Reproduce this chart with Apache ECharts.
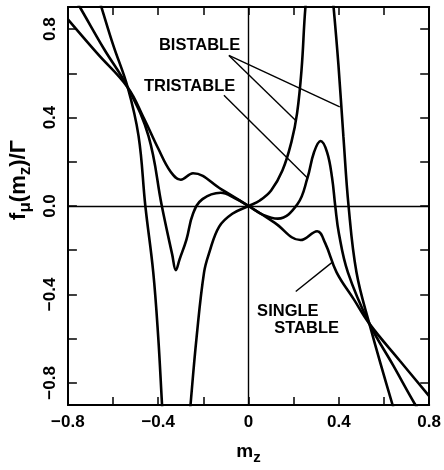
<!DOCTYPE html>
<html>
<head>
<meta charset="utf-8">
<script src="https://cdn.jsdelivr.net/npm/echarts@6/dist/echarts.min.js"></script>
<style>
  html, body { margin: 0; padding: 0; background: #fff; }
  #chart { width: 444px; height: 470px; }
</style>
</head>
<body>
<div id="chart"></div>
<script>
// curves, [m_z, f/Γ]; points past ±0.9 are clipped by the grid
var singleStable = [
    [-0.8, 0.844], [-0.67, 0.69], [-0.535, 0.536], [-0.465, 0.40], [-0.40, 0.26],
    [-0.345, 0.155], [-0.30, 0.119], [-0.246, 0.148], [-0.12, 0.075], [0, 0],
    [0.115, -0.075], [0.23, -0.154], [0.304, -0.114], [0.339, -0.167], [0.39, -0.3],
    [0.465, -0.42], [0.535, -0.532], [0.67, -0.70], [0.8, -0.86]
];
var tristable = [
    [-0.8, 0.99], [-0.748, 0.901], [-0.64, 0.71], [-0.535, 0.536], [-0.443, 0.316],
    [-0.384, 0], [-0.338, -0.22], [-0.322, -0.29], [-0.305, -0.24], [-0.275, -0.152],
    [-0.246, -0.035], [-0.204, 0.031], [-0.123, 0.06], [-0.06, 0.035], [0, 0],
    [0.065, -0.04], [0.13, -0.057], [0.217, 0.009], [0.261, 0.127], [0.29, 0.243],
    [0.319, 0.294], [0.348, 0.243], [0.37, 0.127], [0.384, 0], [0.40, -0.123],
    [0.44, -0.3], [0.535, -0.532], [0.64, -0.72], [0.739, -0.9], [0.8, -1.0]
];
var bistable = [
    [-0.7, 1.06], [-0.652, 0.901], [-0.6, 0.73], [-0.535, 0.536], [-0.487, 0.316],
    [-0.457, 0], [-0.422, -0.3], [-0.4, -0.593], [-0.383, -0.9], [-0.36, -1.3],
    [-0.32, -1.45], [-0.29, -1.3], [-0.257, -0.9], [-0.23, -0.593], [-0.197, -0.3],
    [-0.174, -0.211], [-0.13, -0.093], [-0.072, -0.035], [0, 0], [0.05, 0.025],
    [0.1, 0.07], [0.15, 0.16], [0.19, 0.29], [0.215, 0.42], [0.235, 0.62], [0.252, 0.9],
    [0.29, 1.3], [0.315, 1.4], [0.34, 1.3], [0.377, 0.895], [0.398, 0.639],
    [0.42, 0.316], [0.443, 0], [0.478, -0.3], [0.535, -0.532], [0.638, -0.9], [0.7, -1.1]
];

var xTicks = [-0.6, -0.4, -0.2, 0, 0.2, 0.4, 0.6];
var xLabels = [-0.8, -0.4, 0, 0.4, 0.8];
var yTicks = [-0.8, -0.6, -0.4, -0.2, 0, 0.2, 0.4, 0.6, 0.8];
var yLabels = [-0.8, -0.4, 0, 0.4, 0.8];

// annotation text and where it sits, in data units
var notes = [
    [-0.217, 0.725, 'BISTABLE'],
    [-0.261, 0.54, 'TRISTABLE'],
    [0.174, -0.475, 'SINGLE'],
    [0.257, -0.553, 'STABLE']
];
var leaders = [
    [[-0.087, 0.681], [0.209, 0.387]],
    [[-0.087, 0.681], [0.404, 0.448]],
    [[-0.109, 0.501], [0.261, 0.127]],
    [[0.209, -0.387], [0.37, -0.255]]
];

var font = '"Liberation Sans", Arial, sans-serif';

function fmtX(v) {
    if (Math.abs(v) < 1e-9) return '0';
    return v.toFixed(1).replace('-', '\u2212');
}
function fmtY(v) {
    if (Math.abs(v) < 1e-9) return '0.0';
    return v.toFixed(1).replace('-', '\u2212');
}

var chart = echarts.init(document.getElementById('chart'));

var frameLine = { show: true, onZero: false, lineStyle: { color: '#000', width: 2 } };

function curve(name, data) {
    return {
        name: name,
        type: 'line',
        data: data,
        showSymbol: false,
        symbol: 'none',
        smooth: 0.4,
        clip: true,
        lineStyle: { color: '#000', width: 2.6 },
        silent: true
    };
}

var option = {
    animation: false,
    backgroundColor: '#fff',
    grid: { left: 66, right: 10, top: 7, bottom: 55 },
    xAxis: [{
        type: 'value', min: -0.8, max: 0.8, interval: 0.2, position: 'bottom',
        axisLine: frameLine,
        axisTick: { inside: true, length: 8, customValues: xTicks, lineStyle: { color: '#000', width: 1.5 } },
        axisLabel: {
            customValues: xLabels, formatter: fmtX, margin: 9,
            color: '#000', fontSize: 17, fontWeight: 'bold', fontFamily: font
        },
        splitLine: { show: false },
        name: '{m|m}{s|z}',
        nameLocation: 'middle',
        nameGap: 33,
        nameTextStyle: {
            rich: {
                m: { fontSize: 19, fontWeight: 'bold', fontFamily: font, color: '#000' },
                s: { fontSize: 15, fontWeight: 'bold', fontFamily: font, color: '#000', padding: [12, 0, 0, 0] }
            }
        }
    }, {
        type: 'value', min: -0.8, max: 0.8, interval: 0.2, position: 'top',
        axisLine: frameLine,
        axisTick: { inside: true, length: 8, customValues: xTicks, lineStyle: { color: '#000', width: 1.5 } },
        axisLabel: { show: false },
        splitLine: { show: false }
    }],
    yAxis: [{
        type: 'value', min: -0.9, max: 0.9, position: 'left',
        axisLine: frameLine,
        axisTick: { inside: true, length: 9, customValues: yTicks, lineStyle: { color: '#000', width: 1.5 } },
        axisLabel: {
            customValues: yLabels, formatter: fmtY, rotate: 90, margin: 9,
            color: '#000', fontSize: 17, fontWeight: 'bold', fontFamily: font
        },
        splitLine: { show: false },
        name: '{f|f}{s|\u03bc}{f|(m}{s|z}{f|)/\u0393}',
        nameLocation: 'middle',
        nameGap: 29,
        nameTextStyle: {
            padding: [0, 0, 0, 52],
            rich: {
                f: { fontSize: 22, fontWeight: 'bold', fontFamily: font, color: '#000' },
                s: { fontSize: 17, fontWeight: 'bold', fontFamily: font, color: '#000', padding: [13, 0, 0, 0] }
            }
        }
    }, {
        type: 'value', min: -0.9, max: 0.9, position: 'right',
        axisLine: frameLine,
        axisTick: { inside: true, length: 9, customValues: yTicks, lineStyle: { color: '#000', width: 1.5 } },
        axisLabel: { show: false },
        splitLine: { show: false }
    }],
    series: [
        curve('single stable', singleStable),
        curve('tristable', tristable),
        curve('bistable', bistable),
        {
            name: 'notes',
            type: 'scatter',
            data: notes,
            symbolSize: 0,
            silent: true,
            itemStyle: { opacity: 1 },
            label: {
                show: true,
                position: [0, 0],
                align: 'center',
                verticalAlign: 'middle',
                formatter: function (p) { return p.data[2]; },
                color: '#000', opacity: 1, fontSize: 16.5, fontWeight: 'bold', fontFamily: font
            },
            markLine: {
                silent: true,
                symbol: ['none', 'none'],
                label: { show: false },
                lineStyle: { color: '#000', width: 1.4, type: 'solid', opacity: 1 },
                data: [{ xAxis: 0 }, { yAxis: 0 }].concat(leaders.map(function (l) {
                    return [{ coord: l[0] }, { coord: l[1] }];
                }))
            }
        }
    ]
};

chart.setOption(option);
</script>
</body>
</html>
